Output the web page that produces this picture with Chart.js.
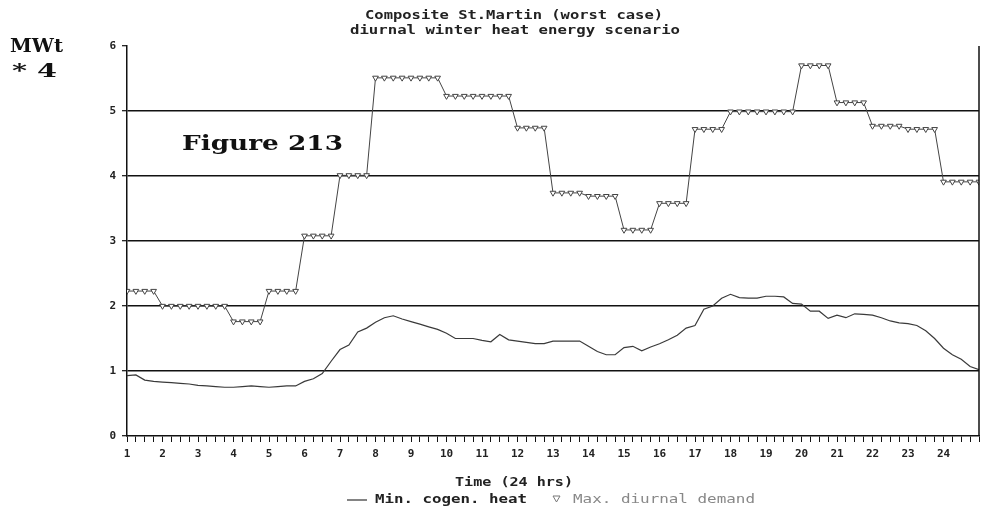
<!DOCTYPE html>
<html>
<head>
<meta charset="utf-8">
<script src="https://cdn.jsdelivr.net/npm/chart.js@4/dist/chart.umd.min.js"></script>
<style>
  html, body { margin: 0; padding: 0; background: #fff; }
  #wrap { width: 985px; height: 511px; position: relative; }
</style>
</head>
<body>
<div id="wrap"><canvas id="c"></canvas></div>
<script>
// ---- data ----
const titleLines = ['Composite St.Martin (worst case)', 'diurnal winter heat energy scenario'];
const xAxisTitle = 'Time (24 hrs)';
const yUnitLines = ['MWt', '* 4'];
const figureLabel = 'Figure 213';
const seriesNames = ['Min. cogen. heat', 'Max. diurnal demand'];
const hourLabels = ['1','2','3','4','5','6','7','8','9','10','11','12','13','14','15','16','17','18','19','20','21','22','23','24'];
const yTicks = [0, 1, 2, 3, 4, 5, 6];

// time in hours, quarter-hour samples from 1 to 25
const timeQuarter = Array.from({length: 97}, (_, i) => 1 + i * 0.25);

// Min. cogen. heat (quarter-hour readings)
const minCogenHeat = [
  0.93, 0.94, 0.86, 0.84,   // 1
  0.83, 0.82, 0.81, 0.80,   // 2
  0.78, 0.77, 0.76, 0.75,   // 3
  0.75, 0.76, 0.77, 0.76,   // 4
  0.75, 0.76, 0.77, 0.77,   // 5
  0.84, 0.88, 0.96, 1.15,   // 6
  1.33, 1.40, 1.60, 1.66,   // 7
  1.75, 1.82, 1.85, 1.80,   // 8
  1.76, 1.72, 1.68, 1.64,   // 9
  1.58, 1.50, 1.50, 1.50,   // 10
  1.47, 1.45, 1.56, 1.48,   // 11
  1.46, 1.44, 1.42, 1.42,   // 12
  1.46, 1.46, 1.46, 1.46,   // 13
  1.38, 1.30, 1.25, 1.25,   // 14
  1.36, 1.38, 1.31, 1.37,   // 15
  1.42, 1.48, 1.55, 1.66,   // 16
  1.70, 1.95, 2.00, 2.12,   // 17
  2.18, 2.13, 2.12, 2.12,   // 18
  2.15, 2.15, 2.14, 2.04,   // 19
  2.03, 1.92, 1.92, 1.81,   // 20
  1.86, 1.82, 1.88, 1.87,   // 21
  1.86, 1.82, 1.77, 1.74,   // 22
  1.73, 1.70, 1.62, 1.50,   // 23
  1.35, 1.25, 1.18, 1.07,   // 24
  1.02                      // 25
];

// Max. diurnal demand (quarter-hour readings)
const maxDiurnalDemand = [
  2.23, 2.23, 2.23, 2.23,   // 1
  2.00, 2.00, 2.00, 2.00,   // 2
  2.00, 2.00, 2.00, 2.00,   // 3
  1.76, 1.76, 1.76, 1.76,   // 4
  2.23, 2.23, 2.23, 2.23,   // 5
  3.08, 3.08, 3.08, 3.08,   // 6
  4.01, 4.01, 4.01, 4.01,   // 7
  5.51, 5.51, 5.51, 5.51,   // 8
  5.51, 5.51, 5.51, 5.51,   // 9
  5.23, 5.23, 5.23, 5.23,   // 10
  5.23, 5.23, 5.23, 5.23,   // 11
  4.74, 4.74, 4.74, 4.74,   // 12
  3.74, 3.74, 3.74, 3.74,   // 13
  3.69, 3.69, 3.69, 3.69,   // 14
  3.17, 3.17, 3.17, 3.17,   // 15
  3.58, 3.58, 3.58, 3.58,   // 16
  4.72, 4.72, 4.72, 4.72,   // 17
  4.99, 4.99, 4.99, 4.99,   // 18
  4.99, 4.99, 4.99, 4.99,   // 19
  5.70, 5.70, 5.70, 5.70,   // 20
  5.13, 5.13, 5.13, 5.13,   // 21
  4.77, 4.77, 4.77, 4.77,   // 22
  4.72, 4.72, 4.72, 4.72,   // 23
  3.91, 3.91, 3.91, 3.91,   // 24
  3.91                      // 25
];

// ---- chart ----
const MONO = '"DejaVu Sans Mono", "Liberation Mono", monospace';
const SERIF = '"DejaVu Serif", "Liberation Serif", serif';

function drawFit(ctx, text, x0, x1, cy, font, color) {
  ctx.save();
  ctx.font = font;
  ctx.fillStyle = color;
  ctx.textBaseline = 'middle';
  ctx.textAlign = 'left';
  const w = ctx.measureText(text).width;
  const s = (x1 - x0) / w;
  ctx.translate(x0, cy);
  ctx.scale(s, 1);
  ctx.fillText(text, 0, 0);
  ctx.restore();
}

const textPlugin = {
  id: 'texts',
  afterDraw(chart) {
    const ctx = chart.ctx;
    const a = chart.chartArea;
    // right frame line
    ctx.save();
    ctx.strokeStyle = '#111';
    ctx.lineWidth = 1.5;
    ctx.beginPath();
    ctx.moveTo(a.right, a.top);
    ctx.lineTo(a.right, a.bottom);
    ctx.stroke();
    ctx.restore();

    drawFit(ctx, titleLines[0], 365, 663, 16, 'bold 13px ' + MONO, '#222');
    drawFit(ctx, titleLines[1], 350, 680, 31, 'bold 13px ' + MONO, '#222');
    drawFit(ctx, yUnitLines[0], 10, 63, 47, 'bold 19px ' + SERIF, '#111');
    drawFit(ctx, yUnitLines[1], 12, 57, 72, 'bold 19px ' + SERIF, '#111');
    drawFit(ctx, figureLabel, 182, 343, 145, 'bold 21px ' + SERIF, '#111');
    drawFit(ctx, xAxisTitle, 455, 573, 483, 'bold 12px ' + MONO, '#222');

    // legend
    ctx.save();
    ctx.strokeStyle = '#333';
    ctx.lineWidth = 1.2;
    ctx.beginPath();
    ctx.moveTo(347, 500); ctx.lineTo(367, 500);
    ctx.stroke();
    ctx.restore();
    drawFit(ctx, seriesNames[0], 375, 527, 500, 'bold 12px ' + MONO, '#222');
    ctx.save();
    ctx.strokeStyle = '#777';
    ctx.lineWidth = 1;
    ctx.beginPath();
    ctx.moveTo(553, 496); ctx.lineTo(560, 496); ctx.lineTo(556.5, 502); ctx.closePath();
    ctx.stroke();
    ctx.restore();
    drawFit(ctx, seriesNames[1], 573, 755, 500, '12px ' + MONO, '#888');
  }
};

const ctx = document.getElementById('c').getContext('2d');
new Chart(ctx, {
  type: 'line',
  data: {
    datasets: [
      {
        label: seriesNames[0],
        data: timeQuarter.map((t, i) => ({x: t, y: minCogenHeat[i]})),
        borderColor: '#3a3a3a',
        borderWidth: 1.2,
        pointRadius: 0,
        tension: 0,
        order: 2
      },
      {
        label: seriesNames[1],
        data: timeQuarter.map((t, i) => ({x: t, y: maxDiurnalDemand[i]})),
        borderColor: '#444',
        borderWidth: 1,
        pointStyle: 'triangle',
        rotation: 180,
        pointRadius: 3.3,
        pointBackgroundColor: '#fff',
        pointBorderColor: '#444',
        pointBorderWidth: 1,
        tension: 0,
        order: 1
      }
    ]
  },
  options: {
    responsive: true,
    maintainAspectRatio: false,
    animation: false,
    layout: { padding: { left: 0, top: 46, right: 1, bottom: 0 } },
    plugins: {
      legend: { display: false },
      title: { display: false },
      tooltip: { enabled: false }
    },
    scales: {
      x: {
        type: 'linear',
        min: 1,
        max: 25,
        afterFit(scale) { scale.height = 75; },
        afterBuildTicks(scale) {
          scale.ticks = timeQuarter.map(v => ({value: v}));
        },
        ticks: {
          autoSkip: false,
          maxRotation: 0,
          minRotation: 0,
          padding: 6,
          color: '#222',
          font: { family: MONO, size: 11, weight: 'bold' },
          callback(v) {
            return (Number.isInteger(v) && v <= hourLabels.length) ? hourLabels[v - 1] : '';
          }
        },
        grid: {
          drawOnChartArea: false,
          drawTicks: true,
          tickLength: 6,
          tickColor: '#111',
          tickWidth: 1
        },
        border: { display: true, color: '#111', width: 1.5 }
      },
      y: {
        min: 0,
        max: 6,
        afterFit(scale) { scale.width = 127; },
        afterBuildTicks(scale) {
          scale.ticks = yTicks.map(v => ({value: v}));
        },
        ticks: {
          padding: 6,
          color: '#222',
          font: { family: MONO, size: 11, weight: 'bold' }
        },
        grid: {
          color(c) { return (c.tick && c.tick.value > 0 && c.tick.value < 6) ? '#111' : 'rgba(0,0,0,0)'; },
          lineWidth: 1.4,
          drawTicks: true,
          tickLength: 5,
          tickColor: '#111',
          tickWidth: 1.2
        },
        border: { display: true, color: '#111', width: 1.5 }
      }
    }
  },
  plugins: [textPlugin]
});
</script>
</body>
</html>
